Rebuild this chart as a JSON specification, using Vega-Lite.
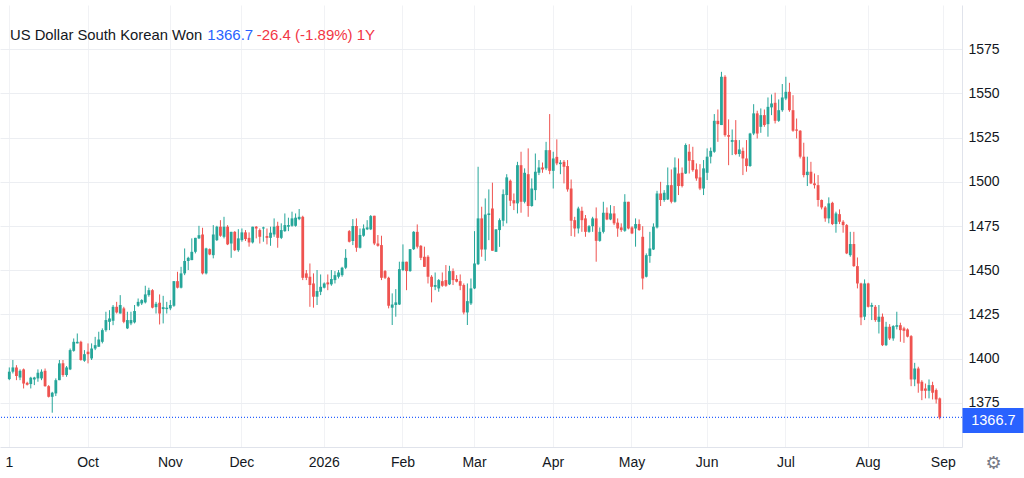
{
  "$schema": "https://vega.github.io/schema/vega-lite/v6.json",
  "width": 962,
  "height": 442,
  "autosize": {"type": "none"},
  "padding": {"left": 0, "top": 5, "right": 62, "bottom": 31},
  "config": {"font": "Liberation Sans", "view": {"stroke": null}},
  "data": {"values": [
    {"d":"2025-09-01","o":1388.4,"h":1395.0,"l":1387.8,"c":1392.6},
    {"d":"2025-09-02","o":1392.6,"h":1399.2,"l":1391.6,"c":1395.0},
    {"d":"2025-09-03","o":1395.0,"h":1396.3,"l":1387.8,"c":1390.1},
    {"d":"2025-09-04","o":1389.3,"h":1393.9,"l":1387.8,"c":1393.1},
    {"d":"2025-09-05","o":1393.9,"h":1394.4,"l":1383.1,"c":1385.9},
    {"d":"2025-09-08","o":1386.3,"h":1386.9,"l":1384.8,"c":1385.2},
    {"d":"2025-09-09","o":1385.6,"h":1389.7,"l":1383.1,"c":1389.2},
    {"d":"2025-09-10","o":1388.2,"h":1389.7,"l":1385.0,"c":1389.3},
    {"d":"2025-09-11","o":1388.8,"h":1393.9,"l":1386.9,"c":1392.0},
    {"d":"2025-09-12","o":1388.8,"h":1393.9,"l":1387.8,"c":1392.6},
    {"d":"2025-09-15","o":1393.1,"h":1394.4,"l":1384.1,"c":1384.4},
    {"d":"2025-09-16","o":1384.4,"h":1385.0,"l":1378.0,"c":1378.4},
    {"d":"2025-09-17","o":1378.4,"h":1381.2,"l":1369.4,"c":1380.7},
    {"d":"2025-09-18","o":1380.3,"h":1388.8,"l":1378.8,"c":1387.8},
    {"d":"2025-09-19","o":1387.8,"h":1399.2,"l":1387.8,"c":1397.3},
    {"d":"2025-09-22","o":1397.3,"h":1399.2,"l":1389.7,"c":1390.7},
    {"d":"2025-09-23","o":1390.7,"h":1395.8,"l":1389.7,"c":1395.0},
    {"d":"2025-09-24","o":1393.9,"h":1405.7,"l":1393.5,"c":1404.8},
    {"d":"2025-09-25","o":1404.4,"h":1411.4,"l":1403.9,"c":1409.5},
    {"d":"2025-09-26","o":1408.6,"h":1414.2,"l":1408.6,"c":1409.5},
    {"d":"2025-09-29","o":1409.5,"h":1410.1,"l":1398.8,"c":1399.2},
    {"d":"2025-09-30","o":1398.8,"h":1404.8,"l":1398.2,"c":1402.5},
    {"d":"2025-10-01","o":1403.9,"h":1408.6,"l":1397.3,"c":1402.5},
    {"d":"2025-10-02","o":1400.1,"h":1408.6,"l":1399.2,"c":1405.7},
    {"d":"2025-10-03","o":1405.7,"h":1412.3,"l":1404.8,"c":1407.6},
    {"d":"2025-10-06","o":1406.7,"h":1415.2,"l":1406.7,"c":1410.8},
    {"d":"2025-10-07","o":1409.5,"h":1417.1,"l":1408.6,"c":1416.1},
    {"d":"2025-10-08","o":1416.1,"h":1426.5,"l":1415.2,"c":1421.8},
    {"d":"2025-10-09","o":1420.8,"h":1427.4,"l":1416.1,"c":1422.7},
    {"d":"2025-10-10","o":1421.4,"h":1430.3,"l":1418.9,"c":1429.3},
    {"d":"2025-10-13","o":1429.3,"h":1432.1,"l":1425.5,"c":1426.1},
    {"d":"2025-10-14","o":1425.5,"h":1435.9,"l":1425.5,"c":1430.3},
    {"d":"2025-10-15","o":1428.4,"h":1429.3,"l":1420.0,"c":1420.8},
    {"d":"2025-10-16","o":1417.1,"h":1426.5,"l":1416.7,"c":1421.8},
    {"d":"2025-10-17","o":1419.9,"h":1426.5,"l":1418.9,"c":1421.8},
    {"d":"2025-10-20","o":1420.5,"h":1430.3,"l":1419.9,"c":1426.9},
    {"d":"2025-10-21","o":1429.9,"h":1434.0,"l":1429.3,"c":1432.1},
    {"d":"2025-10-22","o":1431.2,"h":1433.6,"l":1430.3,"c":1433.1},
    {"d":"2025-10-23","o":1431.8,"h":1441.2,"l":1431.2,"c":1436.3},
    {"d":"2025-10-24","o":1435.9,"h":1440.1,"l":1435.0,"c":1438.7},
    {"d":"2025-10-27","o":1438.7,"h":1439.3,"l":1428.4,"c":1428.8},
    {"d":"2025-10-28","o":1429.1,"h":1432.1,"l":1425.5,"c":1431.0},
    {"d":"2025-10-29","o":1431.6,"h":1436.3,"l":1419.3,"c":1425.5},
    {"d":"2025-10-30","o":1428.0,"h":1435.5,"l":1419.9,"c":1429.1},
    {"d":"2025-10-31","o":1428.0,"h":1432.1,"l":1425.5,"c":1428.8},
    {"d":"2025-11-03","o":1428.4,"h":1433.1,"l":1427.4,"c":1430.3},
    {"d":"2025-11-04","o":1429.9,"h":1443.8,"l":1429.3,"c":1443.8},
    {"d":"2025-11-05","o":1443.8,"h":1449.1,"l":1439.7,"c":1440.1},
    {"d":"2025-11-06","o":1440.1,"h":1451.9,"l":1439.7,"c":1448.2},
    {"d":"2025-11-07","o":1448.2,"h":1462.3,"l":1447.2,"c":1455.2},
    {"d":"2025-11-10","o":1455.2,"h":1457.6,"l":1450.1,"c":1457.0},
    {"d":"2025-11-11","o":1455.7,"h":1468.0,"l":1455.7,"c":1460.4},
    {"d":"2025-11-12","o":1460.4,"h":1468.3,"l":1459.5,"c":1468.3},
    {"d":"2025-11-13","o":1468.0,"h":1475.1,"l":1467.6,"c":1469.8},
    {"d":"2025-11-14","o":1470.2,"h":1474.0,"l":1447.6,"c":1448.2},
    {"d":"2025-11-17","o":1448.2,"h":1462.7,"l":1447.6,"c":1462.3},
    {"d":"2025-11-18","o":1461.9,"h":1462.3,"l":1458.5,"c":1458.9},
    {"d":"2025-11-19","o":1458.5,"h":1475.5,"l":1456.7,"c":1470.2},
    {"d":"2025-11-20","o":1467.0,"h":1475.1,"l":1466.5,"c":1474.6},
    {"d":"2025-11-21","o":1474.6,"h":1478.3,"l":1468.9,"c":1469.5},
    {"d":"2025-11-24","o":1468.9,"h":1480.2,"l":1468.0,"c":1474.6},
    {"d":"2025-11-25","o":1474.6,"h":1475.5,"l":1464.2,"c":1464.6},
    {"d":"2025-11-26","o":1465.1,"h":1471.7,"l":1457.0,"c":1471.7},
    {"d":"2025-11-27","o":1471.7,"h":1472.1,"l":1460.8,"c":1461.3},
    {"d":"2025-11-28","o":1461.3,"h":1473.2,"l":1460.4,"c":1468.0},
    {"d":"2025-12-01","o":1467.0,"h":1473.6,"l":1466.1,"c":1471.4},
    {"d":"2025-12-02","o":1471.4,"h":1472.7,"l":1466.5,"c":1467.6},
    {"d":"2025-12-03","o":1468.3,"h":1471.4,"l":1463.3,"c":1465.7},
    {"d":"2025-12-04","o":1465.7,"h":1474.6,"l":1465.1,"c":1474.6},
    {"d":"2025-12-05","o":1474.6,"h":1475.0,"l":1468.0,"c":1473.6},
    {"d":"2025-12-08","o":1472.7,"h":1473.6,"l":1465.1,"c":1468.9},
    {"d":"2025-12-09","o":1473.6,"h":1474.6,"l":1466.1,"c":1474.2},
    {"d":"2025-12-10","o":1469.3,"h":1473.6,"l":1464.6,"c":1468.3},
    {"d":"2025-12-11","o":1468.3,"h":1474.6,"l":1463.8,"c":1471.2},
    {"d":"2025-12-12","o":1470.2,"h":1479.3,"l":1468.9,"c":1474.6},
    {"d":"2025-12-15","o":1475.1,"h":1477.4,"l":1462.7,"c":1468.3},
    {"d":"2025-12-16","o":1468.3,"h":1476.5,"l":1467.6,"c":1472.7},
    {"d":"2025-12-17","o":1472.1,"h":1482.1,"l":1471.7,"c":1475.5},
    {"d":"2025-12-18","o":1474.6,"h":1479.7,"l":1472.1,"c":1475.5},
    {"d":"2025-12-19","o":1475.1,"h":1483.1,"l":1474.6,"c":1479.3},
    {"d":"2025-12-22","o":1475.1,"h":1482.1,"l":1474.6,"c":1479.7},
    {"d":"2025-12-23","o":1478.9,"h":1484.6,"l":1478.3,"c":1480.2},
    {"d":"2025-12-24","o":1480.2,"h":1480.8,"l":1444.4,"c":1445.7},
    {"d":"2025-12-25","o":1448.2,"h":1450.1,"l":1444.4,"c":1445.7},
    {"d":"2025-12-26","o":1446.3,"h":1453.8,"l":1429.3,"c":1441.6},
    {"d":"2025-12-29","o":1442.5,"h":1448.2,"l":1428.8,"c":1435.0},
    {"d":"2025-12-30","o":1435.0,"h":1450.1,"l":1430.3,"c":1438.2},
    {"d":"2025-12-31","o":1437.8,"h":1447.6,"l":1435.9,"c":1440.6},
    {"d":"2026-01-01","o":1440.1,"h":1443.1,"l":1439.7,"c":1442.5},
    {"d":"2026-01-02","o":1443.1,"h":1447.6,"l":1438.7,"c":1442.0},
    {"d":"2026-01-05","o":1442.0,"h":1450.1,"l":1441.2,"c":1445.0},
    {"d":"2026-01-06","o":1444.4,"h":1449.5,"l":1442.5,"c":1447.2},
    {"d":"2026-01-07","o":1446.3,"h":1450.1,"l":1445.3,"c":1448.7},
    {"d":"2026-01-08","o":1447.2,"h":1451.9,"l":1446.3,"c":1451.4},
    {"d":"2026-01-09","o":1451.4,"h":1461.9,"l":1450.6,"c":1457.0},
    {"d":"2026-01-12","o":1472.1,"h":1472.7,"l":1465.7,"c":1466.1},
    {"d":"2026-01-13","o":1466.5,"h":1478.9,"l":1464.2,"c":1475.0},
    {"d":"2026-01-14","o":1475.0,"h":1479.3,"l":1460.4,"c":1462.7},
    {"d":"2026-01-15","o":1462.7,"h":1473.6,"l":1462.3,"c":1469.9},
    {"d":"2026-01-16","o":1469.5,"h":1475.9,"l":1468.9,"c":1473.6},
    {"d":"2026-01-19","o":1473.1,"h":1478.3,"l":1472.7,"c":1474.2},
    {"d":"2026-01-20","o":1473.1,"h":1481.2,"l":1472.7,"c":1480.6},
    {"d":"2026-01-21","o":1480.8,"h":1480.8,"l":1464.2,"c":1465.1},
    {"d":"2026-01-22","o":1465.1,"h":1469.9,"l":1463.3,"c":1463.8},
    {"d":"2026-01-23","o":1464.2,"h":1469.5,"l":1444.4,"c":1445.7},
    {"d":"2026-01-26","o":1449.5,"h":1450.1,"l":1445.0,"c":1445.7},
    {"d":"2026-01-27","o":1445.7,"h":1446.3,"l":1428.4,"c":1429.9},
    {"d":"2026-01-28","o":1428.8,"h":1436.9,"l":1419.0,"c":1430.6},
    {"d":"2026-01-29","o":1430.3,"h":1439.3,"l":1423.7,"c":1431.8},
    {"d":"2026-01-30","o":1430.6,"h":1454.8,"l":1430.3,"c":1450.6},
    {"d":"2026-02-02","o":1450.1,"h":1464.6,"l":1449.5,"c":1454.8},
    {"d":"2026-02-03","o":1454.8,"h":1454.8,"l":1438.7,"c":1449.5},
    {"d":"2026-02-04","o":1449.5,"h":1461.9,"l":1449.1,"c":1461.9},
    {"d":"2026-02-05","o":1461.9,"h":1472.1,"l":1461.4,"c":1471.7},
    {"d":"2026-02-06","o":1471.7,"h":1475.9,"l":1462.3,"c":1463.3},
    {"d":"2026-02-09","o":1463.8,"h":1464.2,"l":1455.7,"c":1457.0},
    {"d":"2026-02-10","o":1457.6,"h":1463.3,"l":1451.9,"c":1451.9},
    {"d":"2026-02-11","o":1457.6,"h":1458.5,"l":1442.5,"c":1446.3},
    {"d":"2026-02-12","o":1446.3,"h":1447.2,"l":1431.8,"c":1440.6},
    {"d":"2026-02-13","o":1440.6,"h":1448.7,"l":1438.7,"c":1441.6},
    {"d":"2026-02-16","o":1439.7,"h":1445.0,"l":1437.8,"c":1444.4},
    {"d":"2026-02-17","o":1443.8,"h":1448.7,"l":1440.6,"c":1441.2},
    {"d":"2026-02-18","o":1444.4,"h":1452.9,"l":1440.6,"c":1441.2},
    {"d":"2026-02-19","o":1442.0,"h":1452.5,"l":1441.6,"c":1449.5},
    {"d":"2026-02-20","o":1449.5,"h":1451.0,"l":1441.6,"c":1444.4},
    {"d":"2026-02-23","o":1445.0,"h":1447.2,"l":1443.1,"c":1443.5},
    {"d":"2026-02-24","o":1443.8,"h":1447.6,"l":1438.7,"c":1441.2},
    {"d":"2026-02-25","o":1441.6,"h":1442.5,"l":1425.0,"c":1426.1},
    {"d":"2026-02-26","o":1426.1,"h":1442.5,"l":1419.0,"c":1432.5},
    {"d":"2026-02-27","o":1431.2,"h":1445.3,"l":1430.3,"c":1439.7},
    {"d":"2026-03-02","o":1439.7,"h":1472.1,"l":1439.3,"c":1453.8},
    {"d":"2026-03-03","o":1453.4,"h":1508.5,"l":1452.9,"c":1479.3},
    {"d":"2026-03-04","o":1479.3,"h":1485.9,"l":1457.6,"c":1461.7},
    {"d":"2026-03-05","o":1461.7,"h":1490.6,"l":1455.3,"c":1481.5},
    {"d":"2026-03-06","o":1481.2,"h":1495.7,"l":1467.0,"c":1482.1},
    {"d":"2026-03-09","o":1484.9,"h":1499.5,"l":1461.0,"c":1461.0},
    {"d":"2026-03-10","o":1460.4,"h":1473.1,"l":1460.4,"c":1473.1},
    {"d":"2026-03-11","o":1472.7,"h":1479.3,"l":1463.2,"c":1478.3},
    {"d":"2026-03-12","o":1478.0,"h":1495.7,"l":1474.9,"c":1493.0},
    {"d":"2026-03-13","o":1492.5,"h":1504.3,"l":1476.5,"c":1502.5},
    {"d":"2026-03-16","o":1500.6,"h":1501.3,"l":1486.3,"c":1489.3},
    {"d":"2026-03-17","o":1489.6,"h":1493.4,"l":1484.0,"c":1487.8},
    {"d":"2026-03-18","o":1487.8,"h":1511.3,"l":1482.1,"c":1509.4},
    {"d":"2026-03-19","o":1509.4,"h":1517.0,"l":1482.5,"c":1488.7},
    {"d":"2026-03-20","o":1488.7,"h":1507.6,"l":1487.8,"c":1505.1},
    {"d":"2026-03-23","o":1504.3,"h":1518.9,"l":1480.2,"c":1486.3},
    {"d":"2026-03-24","o":1486.3,"h":1501.9,"l":1485.9,"c":1496.2},
    {"d":"2026-03-25","o":1495.3,"h":1516.0,"l":1489.6,"c":1505.7},
    {"d":"2026-03-26","o":1505.1,"h":1512.3,"l":1503.8,"c":1508.1},
    {"d":"2026-03-27","o":1508.1,"h":1510.9,"l":1505.1,"c":1507.0},
    {"d":"2026-03-30","o":1507.6,"h":1522.6,"l":1506.6,"c":1517.9},
    {"d":"2026-03-31","o":1517.9,"h":1538.3,"l":1504.3,"c":1506.2},
    {"d":"2026-04-01","o":1506.2,"h":1517.0,"l":1496.2,"c":1513.2},
    {"d":"2026-04-02","o":1514.1,"h":1524.0,"l":1509.4,"c":1510.4},
    {"d":"2026-04-03","o":1510.0,"h":1512.3,"l":1504.3,"c":1510.9},
    {"d":"2026-04-06","o":1511.3,"h":1512.3,"l":1499.1,"c":1508.5},
    {"d":"2026-04-07","o":1508.9,"h":1512.3,"l":1494.4,"c":1495.7},
    {"d":"2026-04-08","o":1496.2,"h":1501.3,"l":1469.3,"c":1478.0},
    {"d":"2026-04-09","o":1478.3,"h":1480.2,"l":1468.9,"c":1473.6},
    {"d":"2026-04-10","o":1473.6,"h":1485.9,"l":1470.8,"c":1484.9},
    {"d":"2026-04-13","o":1483.6,"h":1485.9,"l":1471.7,"c":1478.3},
    {"d":"2026-04-14","o":1479.3,"h":1481.2,"l":1468.9,"c":1471.7},
    {"d":"2026-04-15","o":1471.7,"h":1475.5,"l":1471.2,"c":1474.9},
    {"d":"2026-04-16","o":1474.9,"h":1480.2,"l":1471.7,"c":1479.3},
    {"d":"2026-04-17","o":1479.3,"h":1485.5,"l":1454.8,"c":1466.6},
    {"d":"2026-04-20","o":1466.6,"h":1474.2,"l":1466.1,"c":1471.7},
    {"d":"2026-04-21","o":1471.7,"h":1488.7,"l":1470.8,"c":1482.5},
    {"d":"2026-04-22","o":1482.5,"h":1485.5,"l":1478.3,"c":1478.7},
    {"d":"2026-04-23","o":1478.7,"h":1486.8,"l":1478.3,"c":1482.1},
    {"d":"2026-04-24","o":1482.1,"h":1486.3,"l":1475.5,"c":1476.5},
    {"d":"2026-04-27","o":1476.9,"h":1479.3,"l":1468.9,"c":1473.6},
    {"d":"2026-04-28","o":1474.2,"h":1476.5,"l":1471.7,"c":1472.7},
    {"d":"2026-04-29","o":1472.3,"h":1493.0,"l":1471.7,"c":1488.7},
    {"d":"2026-04-30","o":1488.7,"h":1488.7,"l":1473.1,"c":1473.6},
    {"d":"2026-05-01","o":1474.2,"h":1474.9,"l":1470.4,"c":1470.8},
    {"d":"2026-05-04","o":1473.6,"h":1479.3,"l":1463.3,"c":1476.1},
    {"d":"2026-05-05","o":1476.1,"h":1478.7,"l":1472.3,"c":1472.7},
    {"d":"2026-05-06","o":1468.9,"h":1474.9,"l":1439.1,"c":1445.3},
    {"d":"2026-05-07","o":1446.3,"h":1459.5,"l":1445.9,"c":1458.5},
    {"d":"2026-05-08","o":1458.0,"h":1471.7,"l":1454.2,"c":1462.3},
    {"d":"2026-05-11","o":1461.7,"h":1476.5,"l":1461.4,"c":1474.6},
    {"d":"2026-05-12","o":1474.2,"h":1494.9,"l":1473.6,"c":1493.4},
    {"d":"2026-05-13","o":1493.4,"h":1500.0,"l":1486.3,"c":1489.7},
    {"d":"2026-05-14","o":1489.7,"h":1495.3,"l":1488.7,"c":1493.8},
    {"d":"2026-05-15","o":1490.0,"h":1508.1,"l":1489.7,"c":1498.1},
    {"d":"2026-05-18","o":1498.1,"h":1507.0,"l":1487.8,"c":1488.7},
    {"d":"2026-05-19","o":1488.7,"h":1513.8,"l":1488.2,"c":1508.1},
    {"d":"2026-05-20","o":1504.7,"h":1513.2,"l":1492.5,"c":1497.6},
    {"d":"2026-05-21","o":1505.1,"h":1508.1,"l":1496.8,"c":1497.6},
    {"d":"2026-05-22","o":1504.7,"h":1521.7,"l":1504.4,"c":1520.8},
    {"d":"2026-05-25","o":1517.0,"h":1521.3,"l":1504.7,"c":1511.9},
    {"d":"2026-05-26","o":1512.3,"h":1519.8,"l":1505.7,"c":1506.6},
    {"d":"2026-05-27","o":1507.0,"h":1510.4,"l":1500.6,"c":1501.9},
    {"d":"2026-05-28","o":1502.5,"h":1510.0,"l":1495.3,"c":1496.2},
    {"d":"2026-05-29","o":1496.2,"h":1512.3,"l":1492.5,"c":1507.6},
    {"d":"2026-06-01","o":1505.1,"h":1518.9,"l":1501.0,"c":1514.2},
    {"d":"2026-06-02","o":1514.2,"h":1519.4,"l":1510.4,"c":1517.5},
    {"d":"2026-06-03","o":1517.0,"h":1538.3,"l":1516.4,"c":1534.5},
    {"d":"2026-06-04","o":1534.5,"h":1540.9,"l":1522.6,"c":1532.6},
    {"d":"2026-06-05","o":1532.1,"h":1562.2,"l":1532.1,"c":1559.4},
    {"d":"2026-06-08","o":1559.4,"h":1560.3,"l":1525.5,"c":1526.4},
    {"d":"2026-06-09","o":1526.4,"h":1535.3,"l":1509.4,"c":1525.5},
    {"d":"2026-06-10","o":1522.6,"h":1529.6,"l":1515.1,"c":1523.6},
    {"d":"2026-06-11","o":1523.6,"h":1534.9,"l":1515.1,"c":1515.7},
    {"d":"2026-06-12","o":1515.7,"h":1523.6,"l":1514.2,"c":1518.3},
    {"d":"2026-06-15","o":1517.5,"h":1519.4,"l":1503.8,"c":1513.2},
    {"d":"2026-06-16","o":1513.2,"h":1523.6,"l":1505.7,"c":1508.9},
    {"d":"2026-06-17","o":1508.9,"h":1527.7,"l":1508.5,"c":1527.3},
    {"d":"2026-06-18","o":1527.3,"h":1543.9,"l":1526.4,"c":1538.7},
    {"d":"2026-06-19","o":1538.7,"h":1540.2,"l":1524.5,"c":1527.3},
    {"d":"2026-06-22","o":1531.1,"h":1541.5,"l":1527.7,"c":1537.7},
    {"d":"2026-06-23","o":1537.7,"h":1540.9,"l":1531.1,"c":1532.1},
    {"d":"2026-06-24","o":1532.6,"h":1547.7,"l":1525.5,"c":1542.4},
    {"d":"2026-06-25","o":1542.1,"h":1549.4,"l":1537.7,"c":1544.3},
    {"d":"2026-06-26","o":1544.7,"h":1550.4,"l":1533.0,"c":1534.5},
    {"d":"2026-06-29","o":1534.5,"h":1546.6,"l":1533.9,"c":1540.5},
    {"d":"2026-06-30","o":1540.5,"h":1555.3,"l":1539.6,"c":1547.7},
    {"d":"2026-07-01","o":1547.1,"h":1559.4,"l":1546.2,"c":1550.9},
    {"d":"2026-07-02","o":1550.9,"h":1556.0,"l":1539.6,"c":1540.5},
    {"d":"2026-07-03","o":1540.5,"h":1549.0,"l":1528.3,"c":1528.9},
    {"d":"2026-07-06","o":1529.6,"h":1535.8,"l":1524.5,"c":1528.9},
    {"d":"2026-07-07","o":1528.9,"h":1529.2,"l":1513.2,"c":1514.2},
    {"d":"2026-07-08","o":1514.2,"h":1522.1,"l":1502.5,"c":1503.8},
    {"d":"2026-07-09","o":1503.8,"h":1514.2,"l":1497.6,"c":1505.7},
    {"d":"2026-07-10","o":1505.7,"h":1511.3,"l":1498.7,"c":1499.1},
    {"d":"2026-07-13","o":1499.1,"h":1504.7,"l":1496.2,"c":1498.1},
    {"d":"2026-07-14","o":1498.1,"h":1503.8,"l":1486.0,"c":1489.7},
    {"d":"2026-07-15","o":1489.7,"h":1490.0,"l":1484.4,"c":1485.5},
    {"d":"2026-07-16","o":1485.5,"h":1486.3,"l":1477.4,"c":1479.3},
    {"d":"2026-07-17","o":1479.3,"h":1491.2,"l":1476.5,"c":1487.8},
    {"d":"2026-07-20","o":1488.1,"h":1488.7,"l":1475.5,"c":1476.1},
    {"d":"2026-07-21","o":1476.1,"h":1483.1,"l":1471.2,"c":1482.1},
    {"d":"2026-07-22","o":1481.7,"h":1484.4,"l":1476.1,"c":1477.4},
    {"d":"2026-07-23","o":1477.4,"h":1478.3,"l":1471.2,"c":1475.5},
    {"d":"2026-07-24","o":1475.5,"h":1476.1,"l":1459.1,"c":1459.5},
    {"d":"2026-07-27","o":1458.5,"h":1471.7,"l":1457.6,"c":1464.8},
    {"d":"2026-07-28","o":1464.8,"h":1471.7,"l":1451.9,"c":1452.3},
    {"d":"2026-07-29","o":1452.3,"h":1457.2,"l":1439.7,"c":1442.5},
    {"d":"2026-07-30","o":1442.5,"h":1442.9,"l":1418.9,"c":1423.3},
    {"d":"2026-07-31","o":1423.7,"h":1444.8,"l":1421.8,"c":1442.5},
    {"d":"2026-08-03","o":1442.5,"h":1442.9,"l":1428.9,"c":1429.3},
    {"d":"2026-08-04","o":1429.3,"h":1431.6,"l":1421.8,"c":1430.3},
    {"d":"2026-08-05","o":1429.3,"h":1430.3,"l":1420.8,"c":1421.8},
    {"d":"2026-08-06","o":1420.8,"h":1430.3,"l":1414.2,"c":1423.7},
    {"d":"2026-08-07","o":1423.7,"h":1425.5,"l":1407.1,"c":1407.6},
    {"d":"2026-08-10","o":1407.6,"h":1420.8,"l":1407.1,"c":1418.0},
    {"d":"2026-08-11","o":1418.0,"h":1419.5,"l":1410.5,"c":1411.4},
    {"d":"2026-08-12","o":1411.4,"h":1418.9,"l":1410.1,"c":1418.4},
    {"d":"2026-08-13","o":1418.0,"h":1426.5,"l":1416.5,"c":1418.9},
    {"d":"2026-08-14","o":1418.9,"h":1420.3,"l":1409.5,"c":1416.1},
    {"d":"2026-08-17","o":1417.1,"h":1418.0,"l":1408.9,"c":1415.7},
    {"d":"2026-08-18","o":1416.5,"h":1417.1,"l":1412.0,"c":1412.4},
    {"d":"2026-08-19","o":1412.7,"h":1413.3,"l":1384.4,"c":1388.2},
    {"d":"2026-08-20","o":1388.2,"h":1397.6,"l":1384.4,"c":1394.4},
    {"d":"2026-08-21","o":1394.4,"h":1395.4,"l":1380.7,"c":1385.9},
    {"d":"2026-08-24","o":1386.9,"h":1387.8,"l":1376.5,"c":1381.8},
    {"d":"2026-08-25","o":1383.1,"h":1385.9,"l":1377.5,"c":1381.8},
    {"d":"2026-08-26","o":1381.8,"h":1388.2,"l":1377.5,"c":1385.0},
    {"d":"2026-08-27","o":1385.0,"h":1386.9,"l":1376.9,"c":1380.7},
    {"d":"2026-08-28","o":1382.2,"h":1383.1,"l":1374.6,"c":1376.9},
    {"d":"2026-08-31","o":1377.5,"h":1378.0,"l":1365.6,"c":1366.7}
  ]},
  "layer": [
    {
      "mark": {"type": "rule", "strokeWidth": 1},
      "encoding": {
        "x": {
          "field": "d",
          "type": "ordinal",
          "scale": {
            "type": "band",
            "domain": {"unionWith": ["2025-08-28", "2025-08-29", "2026-09-01", "2026-09-02", "2026-09-03", "2026-09-04", "2026-09-07"]},
            "paddingInner": 0,
            "paddingOuter": 0.4085,
            "align": 0.119,
            "round": false
          },
          "axis": {
            "values": ["2025-09-01", "2025-10-01", "2025-11-03", "2025-12-01", "2026-01-01", "2026-02-02", "2026-03-02", "2026-04-01", "2026-05-01", "2026-06-01", "2026-07-01", "2026-08-03", "2026-09-01"],
            "labelExpr": "datum.value == '2025-09-01' ? '1' : datum.value == '2026-01-01' ? '2026' : ['Jan','Feb','Mar','Apr','May','Jun','Jul','Aug','Sep','Oct','Nov','Dec'][toNumber(substring(datum.value, 5, 7)) - 1]",
            "bandPosition": 0.5,
            "grid": true,
            "gridColor": "#f1f2f5",
            "ticks": false,
            "tickSize": 0,
            "domain": true,
            "domainColor": "#e0e3eb",
            "labelPadding": 19.7,
            "labelBaseline": "alphabetic",
            "labelFontSize": 14,
            "labelColor": "#131722",
            "labelAngle": 0,
            "labelOverlap": false,
            "labelBound": false,
            "labelFlush": false,
            "title": "⚙",
            "titleX": 993,
            "titleY": 16,
            "titleFont": "DejaVu Sans",
            "titleFontSize": 18,
            "titleFontWeight": "normal",
            "titleColor": "#787b86",
            "titleBaseline": "middle",
            "titleAlign": "center"
          }
        },
        "y": {
          "field": "l",
          "type": "quantitative",
          "scale": {"domain": [1350, 1600], "nice": false, "zero": false},
          "axis": {
            "orient": "right",
            "values": [1375, 1400, 1425, 1450, 1475, 1500, 1525, 1550, 1575],
            "format": "d",
            "grid": true,
            "gridColor": "#eceef2",
            "ticks": false,
            "tickSize": 0,
            "domain": true,
            "domainColor": "#e0e3eb",
            "labelPadding": 6,
            "labelFontSize": 14,
            "labelColor": "#131722",
            "labelBaseline": "middle",
            "title": null
          }
        },
        "y2": {"field": "h"},
        "color": {"condition": {"test": "datum.c >= datum.o", "value": "#26a69a"}, "value": "#ef5350"}
      }
    },
    {
      "mark": {"type": "bar", "size": 2.8},
      "encoding": {
        "x": {"field": "d", "type": "ordinal"},
        "y": {"field": "o", "type": "quantitative", "axis": null},
        "y2": {"field": "c"},
        "color": {"condition": {"test": "datum.c >= datum.o", "value": "#26a69a"}, "value": "#ef5350"}
      }
    },
    {
      "data": {"values": [{}]},
      "mark": {"type": "rule", "color": "#2962ff", "strokeWidth": 1.2, "strokeDash": [1, 2]},
      "encoding": {
        "y": {
          "datum": 1366.7,
          "type": "quantitative",
          "axis": {
            "orient": "right",
            "values": [1366.7],
            "format": ".1f",
            "grid": false,
            "domain": false,
            "ticks": true,
            "tickSize": 61,
            "tickWidth": 25,
            "tickColor": "#2962ff",
            "tickCap": "butt",
            "tickOffset": 3,
            "labelPadding": -52.3,
            "labelColor": "#ffffff",
            "labelFontSize": 14.5,
            "labelAlign": "left",
            "labelBaseline": "middle",
            "title": null
          }
        }
      }
    },
    {
      "data": {"values": [{}]},
      "mark": {"type": "text", "text": "US Dollar South Korean Won", "align": "left", "baseline": "alphabetic", "fontSize": 14.8, "color": "#131722", "dx": 0.7},
      "encoding": {
        "x": {"datum": "2025-09-01", "type": "ordinal"},
        "y": {"datum": 1580, "type": "quantitative", "axis": null}
      }
    },
    {
      "data": {"values": [{}]},
      "mark": {"type": "text", "text": "1366.7", "align": "left", "baseline": "alphabetic", "fontSize": 15, "color": "#2962ff", "dx": 1.2},
      "encoding": {
        "x": {"datum": "2025-11-17", "type": "ordinal"},
        "y": {"datum": 1580, "type": "quantitative", "axis": null}
      }
    },
    {
      "data": {"values": [{}]},
      "mark": {"type": "text", "text": "-26.4 (-1.89%) 1Y", "align": "left", "baseline": "alphabetic", "fontSize": 15, "color": "#f23645", "dx": 0.5},
      "encoding": {
        "x": {"datum": "2025-12-05", "type": "ordinal"},
        "y": {"datum": 1580, "type": "quantitative", "axis": null}
      }
    }
  ],
  "resolve": {"axis": {"y": "independent"}}
}
